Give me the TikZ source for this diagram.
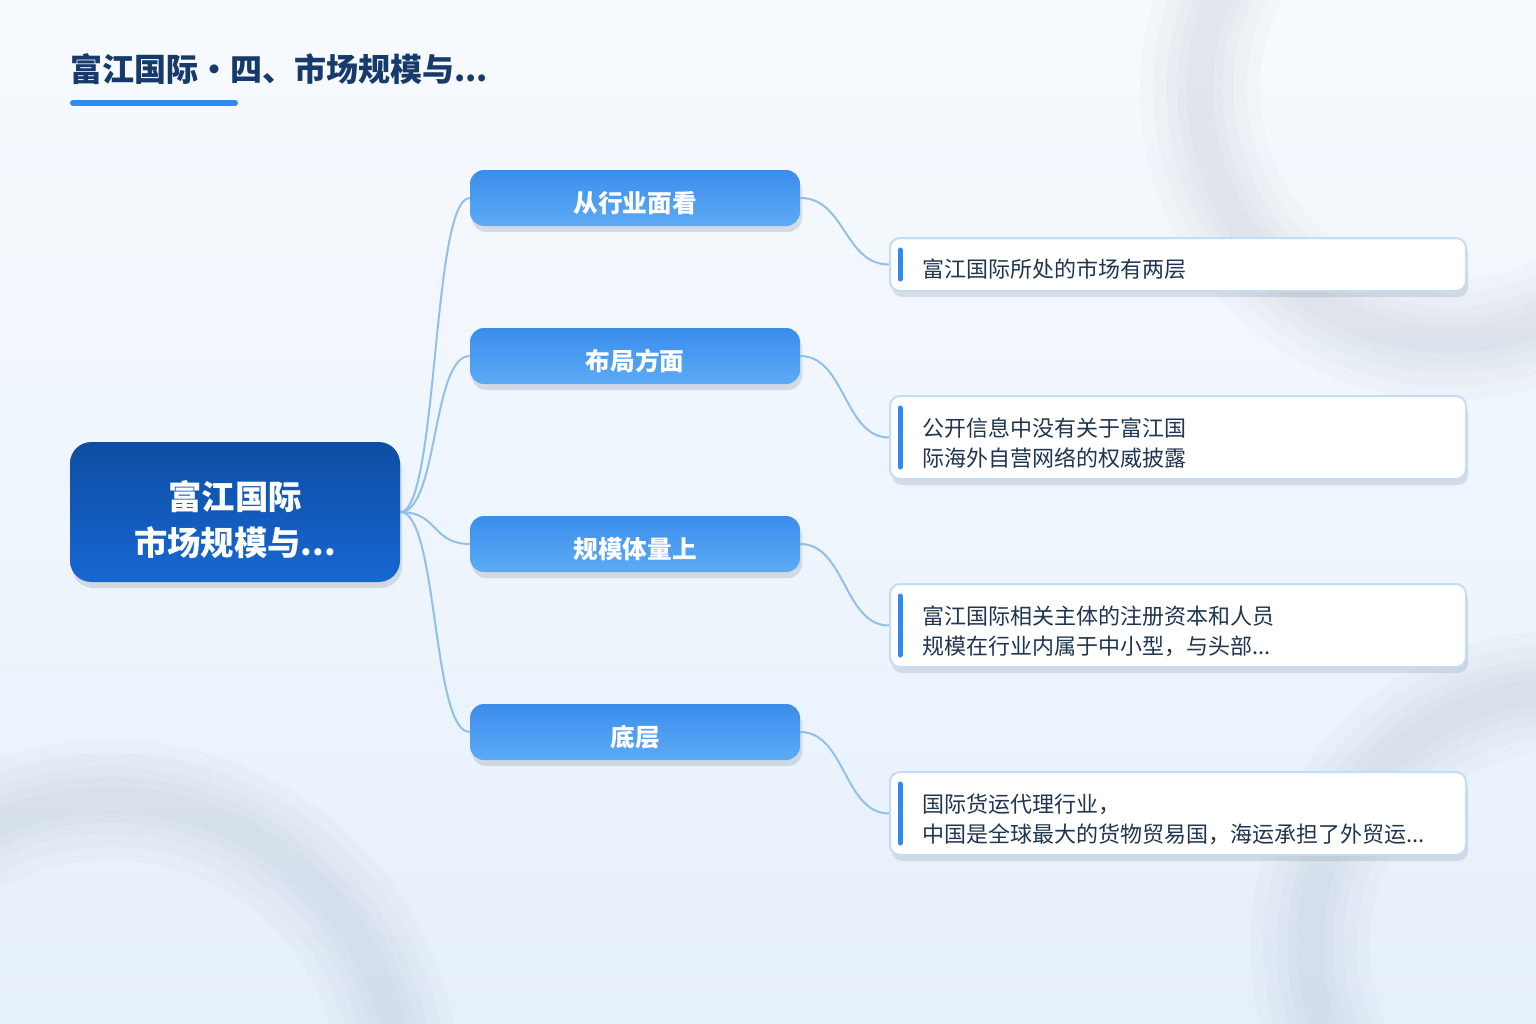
\documentclass[tikz,border=0pt]{standalone}
\usepackage{fontspec}
\setmainfont{Noto Sans CJK SC}
\usetikzlibrary{positioning, calc, shadows, backgrounds}
\definecolor{fjNavy}{HTML}{163A6A}
\definecolor{fjBlue}{HTML}{2E8BEF}
\definecolor{fjDeep}{HTML}{0D4EA2}
\definecolor{fjDeepLo}{HTML}{1767D3}
\definecolor{fjSky}{HTML}{3A8DEB}
\definecolor{fjSkyLo}{HTML}{5DABF6}
\definecolor{fjLine}{HTML}{93C0EA}
\definecolor{fjEdge}{HTML}{C4DCF5}
\definecolor{fjText}{HTML}{1F3550}
\definecolor{fjBgTop}{HTML}{F7FAFE}
\definecolor{fjBgLo}{HTML}{E6F0FB}
\definecolor{fjHaze}{HTML}{8E9AAB}
\newcommand{\sinkby}[2]{\raisebox{-#1}[\height][\depth]{#2}}

\begin{document}
\begin{tikzpicture}[
    x=0.75pt, y=-0.75pt,
    root/.style={rounded corners=16pt, top color=fjDeep, bottom color=fjDeepLo,
                 minimum width=247.5pt, minimum height=105pt, inner sep=0pt,
                 align=center, text=white, font=\fontsize{25}{34.5}\selectfont\bfseries,
                 drop shadow={shadow xshift=1.5pt, shadow yshift=-4.5pt, opacity=0.3, fill=fjHaze}},
    branch/.style={rounded corners=10.5pt, top color=fjSky, bottom color=fjSkyLo,
                   minimum width=247.5pt, minimum height=42pt, inner sep=0pt,
                   text=white, font=\fontsize{18.5}{22}\selectfont\bfseries,
                   drop shadow={shadow xshift=1.5pt, shadow yshift=-4.5pt, opacity=0.3, fill=fjHaze}},
    leaf/.style={rounded corners=7.5pt, fill=white, draw=fjEdge, line width=1.5pt,
                 minimum width=432pt, inner sep=0pt,
                 drop shadow={shadow xshift=1.5pt, shadow yshift=-4.5pt, opacity=0.28, fill=fjHaze}},
    leaftext/.style={anchor=west, inner sep=0pt, align=left, text=fjText,
                     font=\fontsize{16.5}{22.5}\selectfont},
    bar/.style={draw=fjBlue, line width=3.75pt, line cap=round},
    link/.style={draw=fjLine, line width=1.5pt},
    haze/.style={draw=fjHaze, opacity=0.04},
  ]
  \useasboundingbox (0,0) rectangle (1536,1024);

  % backdrop and soft rings
  \begin{scope}[on background layer]
    \fill[top color=fjBgTop, bottom color=fjBgLo] (0,0) rectangle (1536,1024);
    \foreach \w in {90,70,50,34,20} {
      \draw[haze, line width=\w] (1450,90) circle[radius=250];
      \draw[haze, line width=\w] (110,1090) circle[radius=290];
      \draw[haze, line width=\w] (1565,945) circle[radius=255];
    }
  \end{scope}

  % title
  \node[anchor=west, inner sep=0pt, text=fjNavy, font=\fontsize{24}{28}\selectfont\bfseries]
    (title) at (70,69) {富江国际・四、市场规模与...};
  \draw[fjBlue, line width=4.5pt, line cap=round] (73,103) -- (235,103);

  % centre and branches
  \node[root] (root) at (235,512) {\sinkby{6pt}{富江国际}\\\sinkby{6pt}{市场规模与...}};

  \node[branch] (b1) at (635,198) {\sinkby{3.75pt}{从行业面看}};
  \node[branch] (b2) at (635,356) {\sinkby{3.75pt}{布局方面}};
  \node[branch] (b3) at (635,544) {\sinkby{3.75pt}{规模体量上}};
  \node[branch] (b4) at (635,732) {\sinkby{3.75pt}{底层}};

  % detail cards
  \node[leaf, minimum height=39.75pt] (l1) at (1178,264.5) {};
  \node[leaf, minimum height=62.25pt] (l2) at (1178,437.5) {};
  \node[leaf, minimum height=62.25pt] (l3) at (1178,625.5) {};
  \node[leaf, minimum height=62.25pt] (l4) at (1178,813.5) {};

  \node[leaftext] (t1) at (922,269) {富江国际所处的市场有两层};
  \node[leaftext] (t2) at (922,443) {公开信息中没有关于富江国\\际海外自营网络的权威披露};
  \node[leaftext] (t3) at (922,631) {富江国际相关主体的注册资本和人员\\规模在行业内属于中小型，与头部...};
  \node[leaftext] (t4) at (922,819) {国际货运代理行业，\\中国是全球最大的货物贸易国，海运承担了外贸运...};

  \foreach \n in {l1,l2,l3,l4}
    \draw[bar] ($(\n.north west)+(11,13)$) -- ($(\n.south west)+(11,-13)$);

  % connectors
  \begin{scope}[on background layer]
    \foreach \n in {b1,b2,b3,b4}
      \draw[link] (root.east) .. controls ($(root.east)+(38,0)$) and ($(\n.west)+(-38,0)$) .. (\n.west);
    \foreach \a/\b in {b1/l1,b2/l2,b3/l3,b4/l4}
      \draw[link] (\a.east) .. controls ($(\a.east)+(45,0)$) and ($(\b.west)+(-45,0)$) .. (\b.west);
  \end{scope}
\end{tikzpicture}
\end{document}
